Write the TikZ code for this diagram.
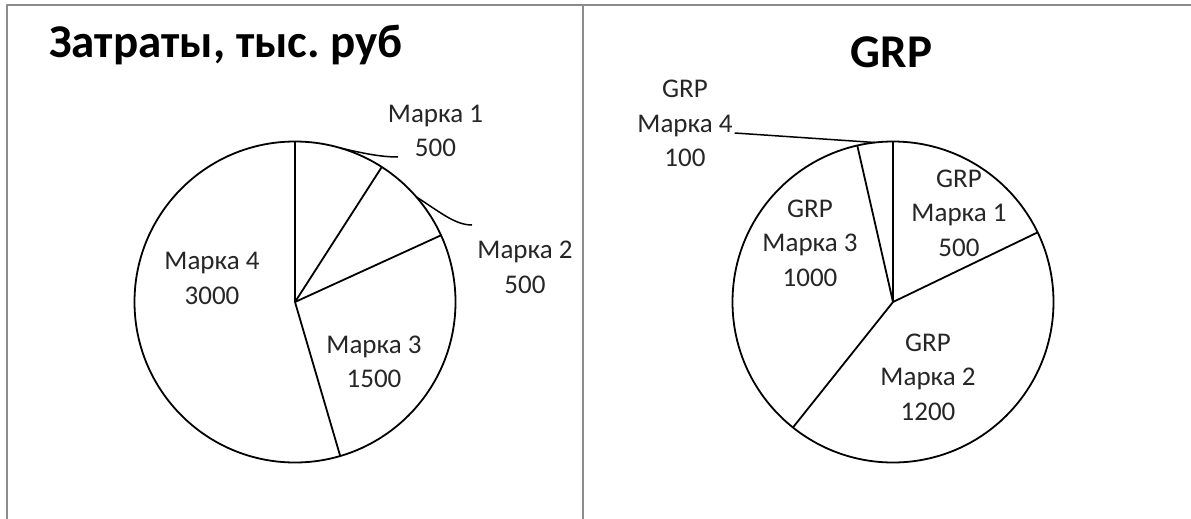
\documentclass[tikz,border=0pt]{standalone}
\usepackage{fontspec}
\setmainfont{Carlito}
\usetikzlibrary{calc}
\frenchspacing
\tikzset{
  frameline/.style={draw=black!45, line width=2pt},
  pieline/.style={draw=black, line width=1.8pt},
  leader/.style={draw=black, line width=1.5pt},
  lbl/.style={font=\fontsize{27}{34.5}\selectfont, inner sep=0pt, anchor=base, text=black!85},
  ttl/.style={font=\fontsize{47}{50}\selectfont\bfseries, inner sep=0pt, anchor=base, text=black}
}
\begin{document}
\begin{tikzpicture}[x=1pt,y=-1pt,line join=round]
\fill[white] (0,0) rectangle (1191,519);
\useasboundingbox (0,0) rectangle (1191,519);
% frame
\draw[frameline] (7,520) -- (7,5) -- (1191,5);
\draw[frameline] (583,5) -- (583,520);

% ---------- left pie ----------
\node[ttl, anchor=base west] (t1) at (49,58) {Затраты, тыс. руб};
\coordinate (L) at (295,302);
\draw[pieline] (L) circle[radius=160.5pt];
\draw[pieline] (L) -- ($(L)+(90:160.5pt)$);
\draw[pieline] (L) -- ($(L)+(57.27:160.5pt)$);
\draw[pieline] (L) -- ($(L)+(24.55:160.5pt)$);
\draw[pieline] (L) -- ($(L)+(-73.64:160.5pt)$);

\node[lbl] (l1a) at (435.5,122) {Марка 1};
\node[lbl] (l1b) at (435.5,156.5) {500};
\node[lbl] (l2a) at (525,258.5) {Марка 2};
\node[lbl] (l2b) at (525,293) {500};
\node[lbl] (l4a) at (212,269.5) {Марка 4};
\node[lbl] (l4b) at (212,304) {3000};
\node[lbl] (l3a) at (374,353) {Марка 3};
\node[lbl] (l3b) at (374,387.5) {1500};

\coordinate (s1) at ($(L)+(73.64:160.5pt)$);
\coordinate (e1) at (398,157);
\draw[leader] (s1) .. controls (362,153) and (380,157) .. (e1);
\coordinate (s2) at ($(L)+(40.9:160.5pt)$);
\coordinate (e2) at (472,225);
\draw[leader] (s2) .. controls (440,212) and (455,225) .. (e2);

% ---------- right pie ----------
\node[ttl] (t2) at (891.5,67) {GRP};
\coordinate (R) at (893,302);
\draw[pieline] (R) circle[radius=160.5pt];
\draw[pieline] (R) -- ($(R)+(90:160.5pt)$);
\draw[pieline] (R) -- ($(R)+(25.71:160.5pt)$);
\draw[pieline] (R) -- ($(R)+(-128.57:160.5pt)$);
\draw[pieline] (R) -- ($(R)+(102.86:160.5pt)$);

\node[lbl] (r1a) at (959,187) {GRP};
\node[lbl] (r1b) at (959,221.5) {Марка 1};
\node[lbl] (r1c) at (959,256) {500};
\node[lbl] (r3a) at (810,217) {GRP};
\node[lbl] (r3b) at (810,251.5) {Марка 3};
\node[lbl] (r3c) at (810,286) {1000};
\node[lbl] (r2a) at (928,351) {GRP};
\node[lbl] (r2b) at (928,385.5) {Марка 2};
\node[lbl] (r2c) at (928,420) {1200};
\node[lbl] (r4a) at (685,97.5) {GRP};
\node[lbl] (r4b) at (685,132) {Марка 4};
\node[lbl] (r4c) at (685,166.5) {100};

\coordinate (s4) at ($(R)+(96.43:160.5pt)$);
\draw[leader] (r4b.base east) ++(2,1) coordinate (e4) -- (s4);
\end{tikzpicture}
\end{document}
